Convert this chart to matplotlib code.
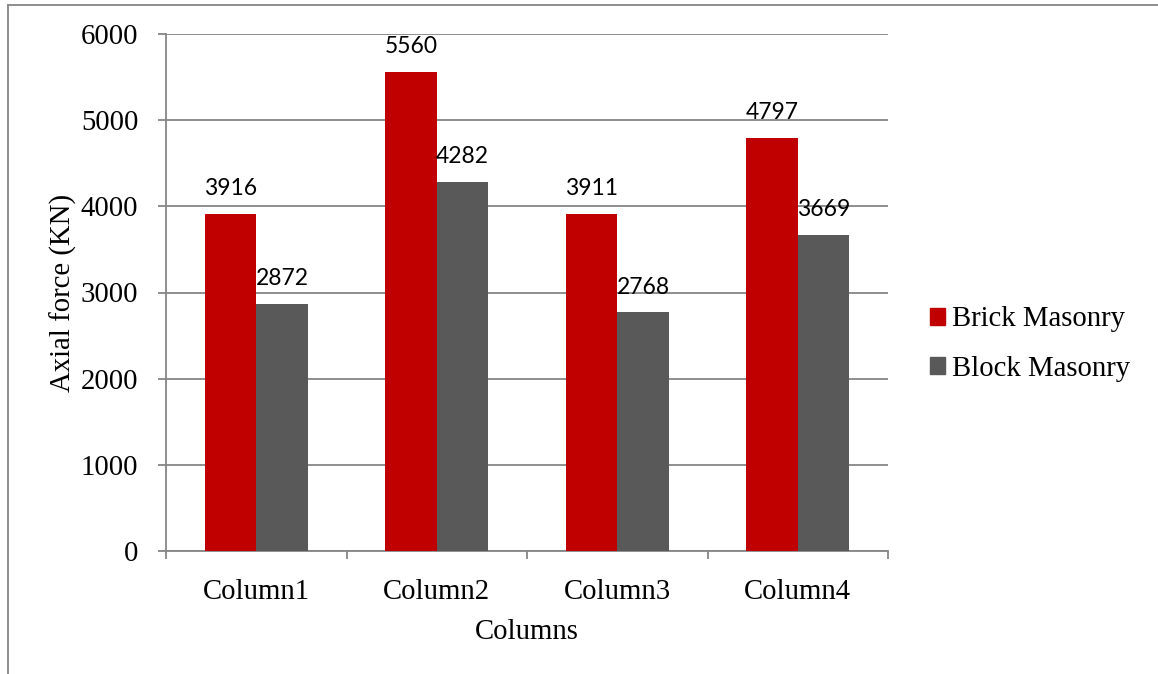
import matplotlib
matplotlib.use("Agg")
import matplotlib.pyplot as plt
import numpy as np
from matplotlib.lines import Line2D
from matplotlib.patches import Patch

categories = ["Column1", "Column2", "Column3", "Column4"]
brick = [3916, 5560, 3911, 4797]
block = [2872, 4282, 2768, 3669]
series_names = ["Brick Masonry", "Block Masonry"]
yticks = [0, 1000, 2000, 3000, 4000, 5000, 6000]

RED = "#C00000"
GRAY = "#595959"
AXIS = "#868686"
SERIF = "Liberation Serif"
SANS = "Lato"
FS = 20.7

fig = plt.figure(figsize=(11.58, 6.74), dpi=100)
ax = fig.add_axes([166 / 1158, 1 - 551 / 674, (888 - 166) / 1158, (551 - 34) / 674])

x = np.arange(len(categories))
w = 0.285
b1 = ax.bar(x - w / 2, brick, w, color=RED, zorder=3)
b2 = ax.bar(x + w / 2, block, w, color=GRAY, zorder=3)

for bars, vals in ((b1, brick), (b2, block)):
    for r, v in zip(bars, vals):
        ax.annotate(f"{v}", (r.get_x() + r.get_width() / 2, v),
                    xytext=(0, 10.5), textcoords="offset points",
                    ha="center", va="bottom", fontsize=16.5, family=SANS,
                    color="black")

ax.set_xlim(-0.5, len(categories) - 0.5)
ax.set_ylim(0, 6000)
ax.set_yticks(yticks)
ax.set_yticklabels([str(t) for t in yticks], fontsize=FS, family=SERIF)
ax.set_xticks(x)
ax.set_xticklabels(categories, fontsize=FS, family=SERIF)
ax.tick_params(axis="x", length=0, pad=20)
ax.set_xticks(np.arange(-0.5, len(categories), 1.0), minor=True)
ax.tick_params(axis="x", which="minor", length=6, color=AXIS, width=1.3, direction="out")
ax.tick_params(axis="y", length=6, color=AXIS, width=1.3, pad=14)

ax.grid(axis="y", color=AXIS, linewidth=1.3, zorder=0)
for s in ("top", "right"):
    ax.spines[s].set_visible(False)
for s in ("left", "bottom"):
    ax.spines[s].set_color(AXIS)
    ax.spines[s].set_linewidth(1.3)

ax.set_ylabel("Axial force (KN)", fontsize=FS, family=SERIF, labelpad=3)
ax.set_xlabel("Columns", fontsize=FS, family=SERIF, labelpad=10)

handles = [Patch(color=RED), Patch(color=GRAY)]
leg = fig.legend(handles, series_names, loc="center left",
                 bbox_to_anchor=(930 / 1158, 1 - 344 / 674), frameon=False,
                 prop={"family": SERIF, "size": FS}, handlelength=0.53,
                 handleheight=0.53, handletextpad=0.25, labelspacing=0.8,
                 borderpad=0, borderaxespad=0)

# outer frame lines
fig.add_artist(Line2D([8 / 1158, 1.0], [1 - 5 / 674, 1 - 5 / 674],
                      transform=fig.transFigure, color=AXIS, linewidth=1.3))
fig.add_artist(Line2D([8 / 1158, 8 / 1158], [0, 1 - 5 / 674],
                      transform=fig.transFigure, color=AXIS, linewidth=1.3))

fig.savefig("out.png", dpi=100, facecolor="white")
